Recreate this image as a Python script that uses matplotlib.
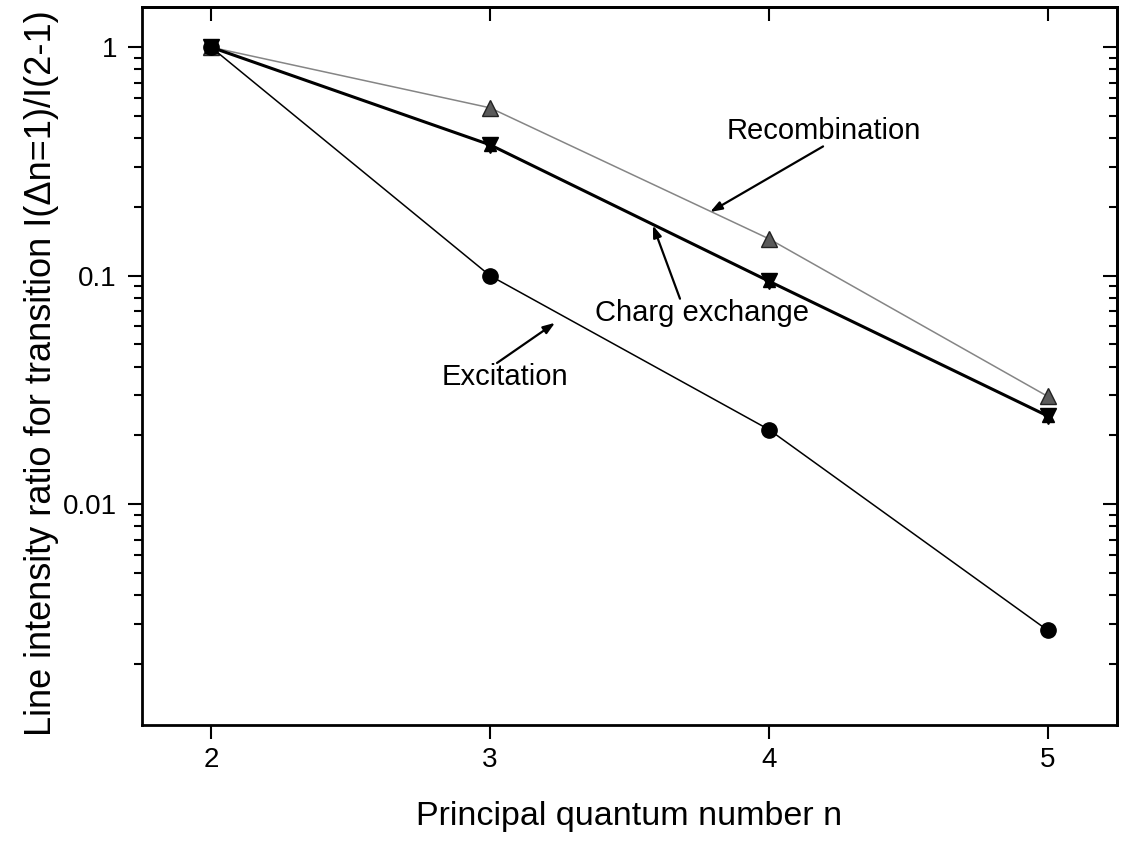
import matplotlib
matplotlib.use("Agg")
import matplotlib.pyplot as plt
from matplotlib.ticker import FixedLocator, FixedFormatter, LogLocator, NullFormatter

# Principal quantum number of the upper level
n = [2, 3, 4, 5]

# Line intensity ratios I(dn=1)/I(2-1) for each population mechanism
excitation = [1.0, 0.100, 0.0212, 0.0028]
charge_exchange = [1.0, 0.374, 0.0946, 0.0243]
recombination = [1.0, 0.543, 0.145, 0.0296]

xtick_vals = [2, 3, 4, 5]
ytick_vals = [0.01, 0.1, 1]
ytick_labels = ["0.01", "0.1", "1"]

plt.rcParams["font.family"] = ["Liberation Sans", "DejaVu Sans"]

fig = plt.figure(figsize=(11.23, 8.43), dpi=100)
ax = fig.add_axes([0.1264, 0.140, 0.8683, 0.8517])

ax.set_yscale("log")
ax.set_xlim(1.752, 5.248)
ax.set_ylim(1.08e-3, 1.5)

# Data series
ax.plot(n, recombination, color="#858585", lw=1.1, marker="^", ms=12,
        mfc="#5a5a5a", mec="#222222", mew=1.0, zorder=3)
ax.plot(n, charge_exchange, color="black", lw=2.2, marker="v", ms=12,
        mfc="black", mec="black", zorder=4)
ax.plot(n, charge_exchange, ls="none", marker="^", ms=8,
        mfc="black", mec="black", zorder=4)
ax.plot(n, excitation, color="black", lw=1.1, marker="o", ms=11,
        mfc="black", mec="black", zorder=3)

# Curve labels with pointer arrows
txt_kw = dict(fontsize=21, ha="center", va="center", color="black")
arr_kw = dict(arrowstyle="-|>,head_length=0.7,head_width=0.25",
              color="black", lw=1.6, shrinkA=0, shrinkB=0)

ax.text(4.197, 0.432, "Recombination", **txt_kw)
ax.annotate("", xy=(3.789, 0.19), xytext=(4.194, 0.368), arrowprops=arr_kw)

ax.text(3.760, 0.0688, "Charg exchange", **txt_kw)
ax.annotate("", xy=(3.584, 0.166), xytext=(3.681, 0.0793), arrowprops=arr_kw)

ax.text(3.054, 0.0361, "Excitation", **txt_kw)
ax.annotate("", xy=(3.233, 0.0622), xytext=(3.025, 0.0415), arrowprops=arr_kw)

# Axes frame and ticks
for side in ["left", "right", "top", "bottom"]:
    ax.spines[side].set_linewidth(2.0)

ax.xaxis.set_major_locator(FixedLocator(xtick_vals))
ax.yaxis.set_major_locator(FixedLocator(ytick_vals))
ax.yaxis.set_major_formatter(FixedFormatter(ytick_labels))
ax.yaxis.set_minor_locator(LogLocator(base=10, subs=range(2, 10), numticks=20))
ax.yaxis.set_minor_formatter(NullFormatter())

ax.tick_params(axis="x", which="major", direction="out", length=10, width=1.5,
               labelsize=20, pad=6, top=False)
ax.tick_params(axis="y", which="major", direction="out", length=10, width=1.5,
               labelsize=20, pad=8, right=False)
ax.tick_params(axis="y", which="minor", direction="out", length=6, width=1.5,
               right=False)

# Inward ticks on the top and right edges
sec_x = ax.secondary_xaxis("top")
sec_x.set_xticks(xtick_vals)
sec_x.tick_params(direction="in", length=10, width=1.5, labeltop=False)
sec_x.spines["top"].set_linewidth(2.0)

sec_y = ax.secondary_yaxis("right")
sec_y.yaxis.set_major_locator(FixedLocator(ytick_vals))
sec_y.yaxis.set_minor_locator(LogLocator(base=10, subs=range(2, 10), numticks=20))
sec_y.yaxis.set_major_formatter(NullFormatter())
sec_y.yaxis.set_minor_formatter(NullFormatter())
sec_y.tick_params(which="major", direction="in", length=10, width=1.5)
sec_y.tick_params(which="minor", direction="in", length=6, width=1.5)
sec_y.spines["right"].set_linewidth(2.0)

ax.set_xlabel("Principal quantum number n", fontsize=24.5)
ax.xaxis.set_label_coords(0.5, -0.106)
ax.set_ylabel("Line intensity ratio for transition I(\u0394n=1)/I(2-1)",
              fontsize=26)
ax.yaxis.set_label_coords(-0.085, 0.49)

fig.savefig("out.png", dpi=100)
